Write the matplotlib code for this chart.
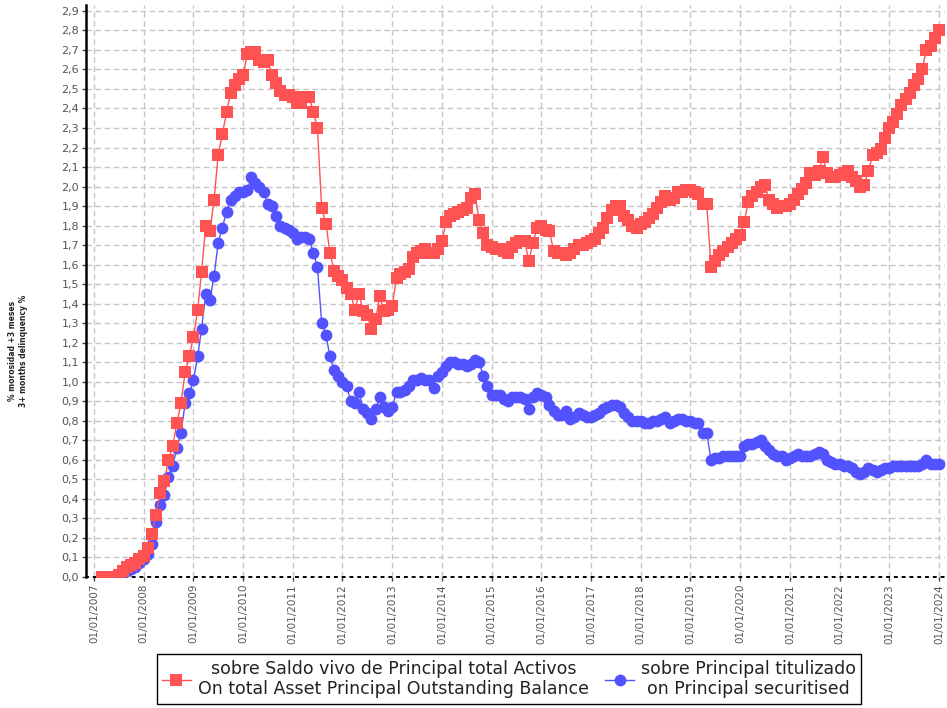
import matplotlib
matplotlib.use('Agg')
import matplotlib.pyplot as plt
import pandas as pd
import datetime as dt

# ---- data ----
start_month = '2007-03-01'
end_month = '2024-01-01'

red_vals = [
    # 2007 (Mar-Dec)
    0.00, 0.00, 0.00, 0.00, 0.01, 0.03, 0.05, 0.06, 0.07, 0.09,
    # 2008
    0.11, 0.15, 0.22, 0.32, 0.43, 0.49, 0.60, 0.67, 0.79, 0.89, 1.05, 1.13,
    # 2009
    1.23, 1.37, 1.56, 1.80, 1.77, 1.93, 2.16, 2.27, 2.38, 2.48, 2.52, 2.55,
    # 2010
    2.57, 2.68, 2.69, 2.69, 2.65, 2.64, 2.65, 2.57, 2.53, 2.49, 2.47, 2.47,
    # 2011
    2.46, 2.43, 2.43, 2.46, 2.46, 2.38, 2.30, 1.89, 1.81, 1.66, 1.57, 1.54,
    # 2012
    1.52, 1.48, 1.45, 1.37, 1.45, 1.36, 1.34, 1.27, 1.32, 1.44, 1.36, 1.37,
    # 2013
    1.39, 1.53, 1.55, 1.56, 1.58, 1.64, 1.66, 1.67, 1.68, 1.66, 1.66, 1.68,
    # 2014
    1.72, 1.82, 1.85, 1.86, 1.87, 1.88, 1.89, 1.94, 1.96, 1.83, 1.76, 1.70,
    # 2015
    1.69, 1.68, 1.68, 1.67, 1.66, 1.69, 1.71, 1.72, 1.72, 1.62, 1.71, 1.79,
    # 2016
    1.80, 1.78, 1.77, 1.67, 1.66, 1.66, 1.65, 1.66, 1.68, 1.70, 1.70, 1.71,
    # 2017
    1.72, 1.73, 1.76, 1.79, 1.84, 1.88, 1.90, 1.90, 1.85, 1.83, 1.80, 1.79,
    # 2018
    1.81, 1.82, 1.84, 1.86, 1.89, 1.92, 1.95, 1.93, 1.94, 1.97, 1.97, 1.98,
    # 2019
    1.98, 1.97, 1.96, 1.91, 1.91, 1.59, 1.62, 1.65, 1.67, 1.69, 1.71, 1.73,
    # 2020
    1.75, 1.82, 1.92, 1.95, 1.97, 2.00, 2.01, 1.93, 1.91, 1.89, 1.90, 1.90,
    # 2021
    1.91, 1.93, 1.96, 1.99, 2.02, 2.07, 2.06, 2.08, 2.15, 2.07, 2.05, 2.05,
    # 2022
    2.06, 2.07, 2.08, 2.05, 2.03, 2.00, 2.01, 2.08, 2.16, 2.17, 2.19, 2.25,
    # 2023
    2.30, 2.33, 2.37, 2.42, 2.45, 2.48, 2.52, 2.55, 2.60, 2.70, 2.72, 2.76,
    # 2024
    2.80,
]

blue_vals = [
    # 2007 (Mar-Dec)
    0.00, 0.00, 0.00, 0.00, 0.01, 0.02, 0.03, 0.04, 0.05, 0.07,
    # 2008
    0.09, 0.12, 0.17, 0.28, 0.37, 0.42, 0.51, 0.57, 0.66, 0.74, 0.89, 0.94,
    # 2009
    1.01, 1.13, 1.27, 1.45, 1.42, 1.54, 1.71, 1.79, 1.87, 1.93, 1.95, 1.97,
    # 2010
    1.97, 1.98, 2.05, 2.02, 2.00, 1.97, 1.91, 1.90, 1.85, 1.80, 1.79, 1.78,
    # 2011
    1.76, 1.73, 1.74, 1.74, 1.73, 1.66, 1.59, 1.30, 1.24, 1.13, 1.06, 1.03,
    # 2012
    1.00, 0.98, 0.90, 0.89, 0.95, 0.86, 0.84, 0.81, 0.86, 0.92, 0.87, 0.85,
    # 2013
    0.87, 0.95, 0.95, 0.96, 0.98, 1.01, 1.01, 1.02, 1.01, 1.01, 0.97, 1.03,
    # 2014
    1.05, 1.08, 1.10, 1.10, 1.09, 1.09, 1.08, 1.09, 1.11, 1.10, 1.03, 0.98,
    # 2015
    0.93, 0.93, 0.93, 0.91, 0.90, 0.92, 0.92, 0.92, 0.91, 0.86, 0.92, 0.94,
    # 2016
    0.93, 0.92, 0.88, 0.85, 0.83, 0.83, 0.85, 0.81, 0.82, 0.84, 0.83, 0.82,
    # 2017
    0.82, 0.83, 0.84, 0.86, 0.87, 0.88, 0.88, 0.87, 0.84, 0.82, 0.80, 0.80,
    # 2018
    0.80, 0.79, 0.79, 0.80, 0.80, 0.81, 0.82, 0.79, 0.80, 0.81, 0.81, 0.80,
    # 2019
    0.80, 0.79, 0.79, 0.74, 0.74, 0.60, 0.61, 0.61, 0.62, 0.62, 0.62, 0.62,
    # 2020
    0.62, 0.67, 0.68, 0.68, 0.69, 0.70, 0.67, 0.65, 0.63, 0.62, 0.62, 0.60,
    # 2021
    0.61, 0.62, 0.63, 0.62, 0.62, 0.62, 0.63, 0.64, 0.63, 0.60, 0.59, 0.58,
    # 2022
    0.58, 0.57, 0.57, 0.56, 0.54, 0.53, 0.54, 0.56, 0.55, 0.54, 0.55, 0.56,
    # 2023
    0.56, 0.57, 0.57, 0.57, 0.57, 0.57, 0.57, 0.57, 0.58, 0.60, 0.58, 0.58,
    # 2024
    0.58,
]

x_tick_years = list(range(2007, 2025))
x_tick_labels = ["01/01/%d" % y for y in x_tick_years]
y_ticks = [0.0, 0.1, 0.2, 0.3, 0.4, 0.5, 0.6, 0.7, 0.8, 0.9,
           1.0, 1.1, 1.2, 1.3, 1.4, 1.5, 1.6, 1.7, 1.8, 1.9,
           2.0, 2.1, 2.2, 2.3, 2.4, 2.5, 2.6, 2.7, 2.8, 2.9]
y_tick_labels = [("%.1f" % v).replace('.', ',') for v in y_ticks]

label_red = "sobre Saldo vivo de Principal total Activos\nOn total Asset Principal Outstanding Balance"
label_blue = "sobre Principal titulizado\non Principal securitised"
y_label = "% morosidad +3 meses\n3+ months delinquency %"

# ---- figure ----
plt.rcParams['font.family'] = ['DejaVu Sans']
W, H = 947, 708
fig = plt.figure(figsize=(W / 100, H / 100), dpi=100)
ax = fig.add_axes([86 / W, (H - 577) / H, (945 - 86) / W, (577 - 5) / H])

dates = pd.date_range(start_month, end_month, freq='MS')

RED = '#ff5252'
BLUE = '#5252ff'

hb, = ax.plot(dates, blue_vals, color=BLUE, marker='o', markersize=8.5,
              markeredgewidth=0, linewidth=1.0, zorder=3)
hr, = ax.plot(dates, red_vals, color=RED, marker='s', markersize=8.5,
              markeredgewidth=0, linewidth=1.0, zorder=4)

ax.set_ylim(0, 2.93)
ax.set_xlim(dt.datetime(2006, 11, 3), dt.datetime(2024, 2, 15))

ax.set_xticks([dt.datetime(y, 1, 1) for y in x_tick_years])
ax.set_xticklabels(x_tick_labels, rotation=90, fontsize=7.5, color='#555555')
ax.set_yticks(y_ticks)
ax.set_yticklabels(y_tick_labels, fontsize=8, color='#555555')

ax.grid(True, color='#c6c6c6', linestyle=(0, (4, 2.5)), linewidth=1.0, zorder=0)
ax.set_axisbelow(True)

for s in ['top', 'right']:
    ax.spines[s].set_visible(False)
ax.spines['left'].set_linewidth(1.8)
ax.spines['left'].set_color('black')
ax.spines['bottom'].set_linewidth(1.4)
ax.spines['bottom'].set_linestyle((0, (1, 3)))
ax.spines['bottom'].set_color('black')
ax.tick_params(axis='both', direction='out', length=3, width=1, color='#444444', pad=2)

fig.text(18 / W, 1 - 351 / H, y_label, rotation=90, fontsize=5.5, fontweight='bold',
         ha='center', va='center', multialignment='center', color='#222222')

leg = fig.legend([hr, hb], [label_red, label_blue], loc='center',
                 bbox_to_anchor=(509 / W, 1 - 679 / H), ncol=2, numpoints=1,
                 frameon=True, fancybox=False, edgecolor='black', fontsize=12.5,
                 handlelength=1.7, handletextpad=0.4, columnspacing=0.9,
                 borderpad=0.3, borderaxespad=0, framealpha=1)
leg.get_frame().set_linewidth(1.0)
for t in leg.get_texts():
    t.set_multialignment('center')
    t.set_color('#222222')

fig.savefig('out.png', dpi=100)
